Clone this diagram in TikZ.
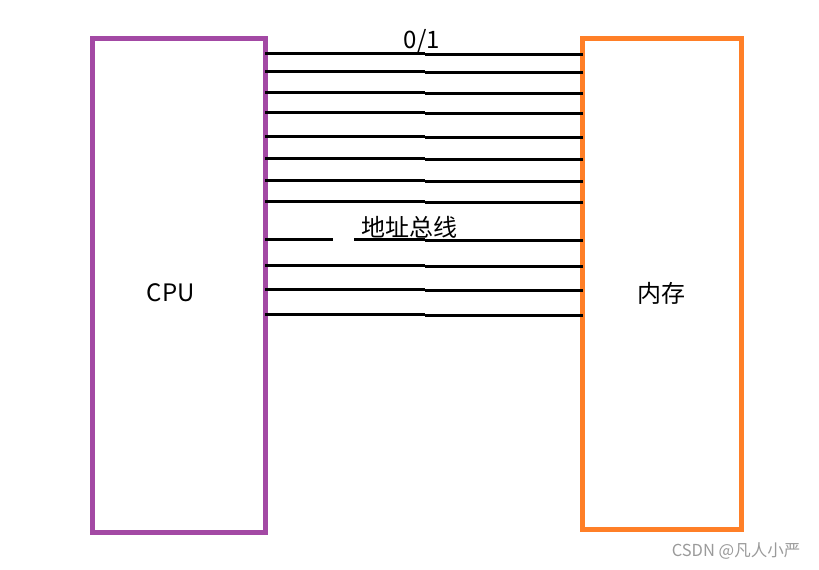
\documentclass[tikz,border=0pt]{standalone}
\usepackage{fontspec}
\setmainfont{Noto Sans CJK SC}
\definecolor{cpupurple}{HTML}{A349A4}
\definecolor{memorange}{HTML}{FF7F27}
\definecolor{wmgray}{HTML}{9A9A9A}
\begin{document}
\begin{tikzpicture}[x=1pt,y=-1pt,
  unitbox/.style={draw, line width=5pt, inner sep=0pt, outer sep=0pt},
  wire/.style={line width=3pt, black},
  lbl/.style={inner sep=0pt, font=\fontsize{24}{28}\selectfont},
  wm/.style={inner sep=0pt, text=wmgray, font=\fontsize{16.5}{18}\selectfont}]
\useasboundingbox (0,0) rectangle (819,570);
\node[unitbox, cpupurple, minimum width=172.5pt, minimum height=494pt] (cpu) at (178.75,285.3) {};
\node[unitbox, memorange, minimum width=158.8pt, minimum height=490.7pt] (mem) at (662.1,283.65) {};
\node[lbl] (cpulbl) at (170.7,292.5) {CPU};
\node[lbl] (memlbl) at (661,293) {内存};
\coordinate (mid) at (425,0);
% wires: left y, right y
\foreach \yl/\yr in {53.3/54.3, 71/72.3, 92.3/93.3, 112.3/113.3, 136/137.3, 158.3/159.3, 180/181, 201/202.3, 265/266.3, 289.3/290.3, 314.3/315.7}{
  \draw[wire] (cpu.east |- 0,\yl) -- (mid |- 0,\yl);
  \draw[wire] (mid |- 0,\yr) -- (mem.west |- 0,\yr);
}
\coordinate (gapa) at (333,239.3);
\coordinate (gapb) at (354,239.3);
\draw[wire] (cpu.east |- gapa) -- (gapa);
\draw[wire] (gapb) -- (mid |- gapb);
\draw[wire] (mid |- 0,240.7) -- (mem.west |- 0,240.7);
\node[lbl] (bus) at (409.5,227.5) {地址总线};
\node[lbl] (bit) at (421.7,41) {0/1};
\node[wm] (mark) at (736,551) {CSDN @凡人小严};
\end{tikzpicture}
\end{document}
